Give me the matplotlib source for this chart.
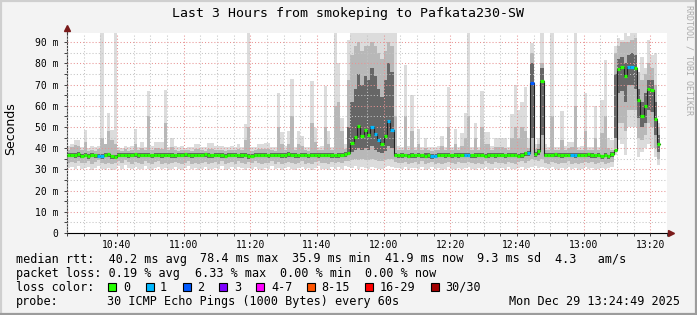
import numpy as np
import matplotlib
matplotlib.use("Agg")
import matplotlib.pyplot as plt
from matplotlib.lines import Line2D
from matplotlib.patches import Rectangle

W, H = 697, 315
MONO = "DejaVu Sans Mono"
plt.rcParams['font.family'] = MONO

# one value per minute starting at 10:25 (ms)
median = [
    36.8, 36.9, 36.7, 37.2, 36.5, 36.9, 36.3, 37.0, 36.6, 36.4,
    36.3, 36.9, 37.1, 36.2, 36.0, 36.8, 36.9, 37.0, 36.7, 36.9,
    37.1, 36.8, 36.9, 36.9, 37.0, 36.6, 37.0, 36.8, 36.7, 36.9,
    37.0, 36.8, 36.6, 36.9, 37.0, 37.1, 36.8, 36.7, 36.9, 37.0,
    36.9, 37.1, 36.7, 36.6, 36.9, 37.0, 36.8, 36.5, 36.9, 36.8,
    37.0, 36.6, 36.8, 36.9, 36.4, 36.5, 36.8, 36.9, 37.0, 36.9,
    36.6, 36.8, 36.9, 37.0, 36.7, 36.8, 37.2, 36.9, 36.7, 36.6,
    36.8, 36.9, 36.6, 37.0, 36.9, 36.7, 36.8, 36.9, 37.0, 36.8,
    36.6, 36.7, 37.0, 37.3, 37.8, 42.5, 45.1, 50.4, 45.7, 48.7,
    46.3, 50.1, 46.8, 44.0, 42.1, 45.7, 52.8, 48.5, 36.8, 36.6,
    36.7, 36.8, 36.5, 36.7, 36.6, 36.8, 36.7, 36.5, 36.6, 36.4,
    36.5, 36.9, 36.8, 36.7, 36.9, 36.6, 36.8, 36.7, 36.9, 37.0,
    36.8, 36.6, 36.7, 36.9, 36.8, 36.5, 36.7, 36.8, 36.7, 36.9,
    36.8, 36.6, 36.9, 37.0, 36.8, 36.5, 36.7, 37.6, 37.8, 70.8,
    37.2, 38.8, 71.5, 37.0, 36.9, 36.8, 37.1, 36.9, 36.7, 36.8,
    36.9, 36.8, 36.7, 36.9, 37.0, 36.8, 37.1, 36.7, 36.6, 36.9,
    36.2, 36.8, 36.1, 37.4, 39.1, 77.1, 78.4, 73.8, 78.4, 78.4,
    77.8, 62.7, 55.1, 59.8, 67.8, 67.4, 53.9, 41.8,
]

ping_min = [
    30.5, 31.0, 30.2, 31.5, 30.0, 30.8, 31.2, 29.9, 30.5, 31.8,
    30.1, 29.8, 30.6, 29.9, 30.4, 31.5, 30.2, 32.0, 30.8, 30.0,
    31.0, 30.4, 30.0, 31.6, 30.2, 29.9, 30.8, 31.2, 30.0, 30.5,
    29.8, 30.3, 31.0, 30.1, 29.9, 30.6, 31.4, 30.0, 30.5, 29.8,
    30.2, 31.0, 29.9, 30.4, 30.8, 30.0, 31.5, 29.8, 30.3, 30.9,
    30.0, 31.2, 30.5, 29.9, 30.7, 30.1, 31.3, 30.4, 29.8, 30.6,
    30.2, 31.4, 30.0, 30.8, 29.9, 30.5, 31.0, 30.2, 29.8, 30.6,
    31.2, 30.0, 30.5, 29.9, 30.8, 31.5, 30.1, 30.4, 29.8, 30.9,
    30.3, 31.0, 30.2, 31.6, 31.0, 30.5, 31.5, 30.0, 31.0, 30.5,
    30.0, 31.0, 30.5, 30.0, 30.2, 31.0, 31.5, 31.0, 30.5, 30.5,
    30.2, 31.0, 29.9, 30.5, 30.8, 30.0, 31.2, 29.8, 30.4, 31.0,
    30.0, 30.6, 29.9, 30.3, 31.1, 30.2, 29.8, 30.7, 30.1, 30.5,
    31.0, 30.2, 29.9, 30.6, 30.0, 31.3, 30.4, 29.8, 30.8, 30.2,
    30.5, 29.9, 31.0, 30.3, 30.0, 30.7, 31.2, 30.1, 30.5, 31.0,
    31.5, 30.5, 31.0, 30.5, 30.0, 31.0, 30.3, 29.9, 30.6, 30.2,
    31.2, 30.0, 30.5, 29.8, 30.4, 31.0, 30.1, 30.7, 29.9, 30.3,
    30.8, 30.0, 30.5, 31.0, 37.0, 44.0, 42.0, 37.0, 50.0, 50.0,
    50.0, 36.0, 38.0, 40.0, 42.0, 40.0, 36.0, 32.0,
]

mid_lo = [
    33.0, 33.5, 32.8, 34.0, 33.2, 33.0, 33.8, 32.6, 33.4, 34.2,
    32.8, 32.5, 33.2, 32.6, 33.0, 34.0, 32.9, 34.5, 33.3, 32.7,
    33.6, 33.0, 32.6, 34.0, 32.8, 32.6, 33.4, 33.8, 32.7, 33.1,
    32.5, 33.0, 33.6, 32.8, 32.6, 33.2, 34.0, 32.7, 33.1, 32.5,
    32.9, 33.6, 32.6, 33.0, 33.4, 32.7, 34.0, 32.5, 33.0, 33.5,
    32.7, 33.8, 33.1, 32.6, 33.3, 32.8, 33.9, 33.0, 32.5, 33.2,
    32.9, 34.0, 32.7, 33.4, 32.6, 33.1, 33.6, 32.9, 32.5, 33.2,
    33.8, 32.7, 33.1, 32.6, 33.4, 34.0, 32.8, 33.0, 32.5, 33.5,
    33.0, 33.6, 32.9, 34.0, 34.0, 34.5, 35.0, 34.5, 35.0, 34.5,
    34.5, 35.0, 34.5, 34.0, 34.0, 34.5, 35.0, 35.0, 33.5, 33.0,
    32.9, 33.6, 32.6, 33.1, 33.4, 32.7, 33.8, 32.5, 33.0, 33.6,
    32.7, 33.2, 32.6, 33.0, 33.7, 32.9, 32.5, 33.3, 32.8, 33.1,
    33.6, 32.9, 32.6, 33.2, 32.7, 33.9, 33.0, 32.5, 33.4, 32.9,
    33.1, 32.6, 33.6, 33.0, 32.7, 33.3, 33.8, 32.8, 34.0, 35.0,
    34.5, 34.0, 35.0, 33.2, 32.7, 33.6, 33.0, 32.6, 33.2, 32.9,
    33.8, 32.7, 33.1, 32.5, 33.0, 33.6, 32.8, 33.3, 32.6, 33.0,
    33.4, 32.7, 33.1, 33.6, 40.0, 52.0, 52.0, 48.0, 58.0, 58.0,
    58.0, 45.0, 44.0, 46.0, 52.0, 50.0, 40.0, 35.0,
]

core_lo = [
    35.6, 35.8, 35.4, 36.0, 35.2, 35.7, 35.0, 35.9, 35.4, 35.2,
    35.0, 35.6, 36.0, 35.0, 34.8, 35.6, 35.8, 35.9, 35.5, 35.7,
    36.0, 35.5, 35.7, 35.6, 35.8, 35.3, 35.9, 35.6, 35.4, 35.7,
    35.8, 35.5, 35.3, 35.7, 35.9, 36.0, 35.6, 35.4, 35.7, 35.9,
    35.7, 36.0, 35.4, 35.3, 35.6, 35.8, 35.5, 35.2, 35.7, 35.6,
    35.9, 35.3, 35.5, 35.7, 35.1, 35.2, 35.6, 35.7, 35.9, 35.6,
    35.3, 35.6, 35.7, 35.8, 35.4, 35.5, 36.0, 35.7, 35.4, 35.3,
    35.6, 35.7, 35.3, 35.8, 35.7, 35.4, 35.6, 35.7, 35.8, 35.5,
    35.3, 35.4, 35.8, 36.0, 37.0, 38.0, 39.0, 40.0, 39.0, 40.0,
    39.0, 41.0, 39.0, 38.0, 37.5, 38.5, 41.0, 40.0, 35.6, 35.3,
    35.5, 35.6, 35.2, 35.4, 35.3, 35.6, 35.5, 35.2, 35.3, 35.1,
    35.2, 35.7, 35.6, 35.4, 35.7, 35.3, 35.6, 35.4, 35.7, 35.8,
    35.6, 35.3, 35.4, 35.7, 35.6, 35.2, 35.4, 35.6, 35.4, 35.7,
    35.6, 35.3, 35.7, 35.8, 35.6, 35.2, 35.4, 36.2, 36.5, 45.0,
    35.8, 37.0, 46.0, 35.8, 35.7, 35.6, 35.9, 35.7, 35.4, 35.6,
    35.7, 35.6, 35.4, 35.7, 35.8, 35.6, 35.9, 35.4, 35.3, 35.7,
    35.0, 35.6, 35.0, 36.0, 45.0, 66.0, 67.0, 62.0, 70.0, 70.0,
    68.0, 54.0, 50.0, 52.0, 58.0, 57.0, 46.0, 38.0,
]

core_hi = [
    37.6, 37.7, 37.5, 38.0, 37.3, 37.7, 37.1, 37.8, 37.4, 37.2,
    37.1, 37.7, 37.9, 37.0, 36.8, 37.6, 37.7, 37.8, 37.5, 37.7,
    37.9, 37.6, 37.7, 37.7, 37.8, 37.4, 37.8, 37.6, 37.5, 37.7,
    37.8, 37.6, 37.4, 37.7, 37.8, 37.9, 37.6, 37.5, 37.7, 37.8,
    37.7, 37.9, 37.5, 37.4, 37.7, 37.8, 37.6, 37.3, 37.7, 37.6,
    37.8, 37.4, 37.6, 37.7, 37.2, 37.3, 37.6, 37.7, 37.8, 37.7,
    37.4, 37.6, 37.7, 37.8, 37.5, 37.6, 38.0, 37.7, 37.5, 37.4,
    37.6, 37.7, 37.4, 37.8, 37.7, 37.5, 37.6, 37.7, 37.8, 37.6,
    37.4, 37.5, 37.8, 38.2, 50.0, 62.0, 68.0, 75.0, 70.0, 74.0,
    72.0, 78.0, 74.0, 68.0, 64.0, 72.0, 80.0, 76.0, 37.6, 37.4,
    37.6, 37.4, 37.3, 37.5, 37.3, 37.5, 37.4, 37.6, 37.5, 37.3,
    37.3, 37.7, 37.6, 37.5, 37.7, 37.4, 37.6, 37.5, 37.7, 37.8,
    37.6, 37.4, 37.5, 37.7, 37.6, 37.3, 37.5, 37.6, 37.5, 37.7,
    37.6, 37.4, 37.7, 37.8, 37.6, 37.3, 37.5, 38.4, 38.6, 80.0,
    38.0, 39.6, 78.0, 37.8, 37.7, 37.6, 37.9, 37.7, 37.5, 37.6,
    37.7, 37.6, 37.5, 37.7, 37.8, 37.6, 37.9, 37.5, 37.4, 37.7,
    37.0, 37.6, 37.0, 38.0, 75.0, 82.0, 83.0, 80.0, 84.0, 85.0,
    84.0, 68.0, 62.0, 66.0, 72.0, 72.0, 62.0, 46.0,
]

mid_hi = [
    39.0, 40.5, 41.5, 41.0, 39.0, 43.0, 38.8, 39.2, 38.6, 39.5,
    45.0, 42.0, 48.0, 44.0, 42.0, 39.0, 38.8, 39.4, 38.7, 39.0,
    42.0, 39.0, 40.0, 38.9, 55.0, 39.0, 40.0, 40.0, 39.5, 52.0,
    39.0, 40.5, 39.0, 38.8, 39.2, 38.9, 39.0, 38.6, 39.8, 39.6,
    39.0, 38.8, 39.8, 39.5, 39.3, 39.0, 39.2, 38.6, 39.0, 39.3,
    38.9, 39.6, 39.0, 44.0, 50.0, 38.8, 39.0, 39.8, 39.5, 39.6,
    39.4, 39.0, 38.8, 50.0, 42.0, 39.0, 42.0, 55.0, 39.0, 42.0,
    41.0, 39.0, 38.8, 52.0, 43.0, 39.0, 39.2, 50.0, 42.0, 39.0,
    60.0, 62.0, 48.0, 39.5, 72.0, 84.0, 88.0, 90.0, 86.0, 88.0,
    88.0, 90.0, 88.0, 85.0, 82.0, 86.0, 90.0, 88.0, 55.0, 39.0,
    39.0, 55.0, 39.0, 48.0, 39.2, 42.0, 38.9, 40.0, 39.0, 38.8,
    39.0, 39.2, 41.0, 39.0, 50.0, 39.0, 42.0, 39.0, 41.0, 45.0,
    55.0, 39.0, 45.0, 39.2, 50.0, 42.0, 42.0, 39.0, 40.5, 40.5,
    40.5, 40.0, 39.0, 45.0, 50.0, 45.0, 50.0, 48.0, 40.0, 85.0,
    39.5, 42.0, 80.0, 39.0, 39.2, 55.0, 39.0, 38.9, 44.0, 39.0,
    40.0, 40.5, 60.0, 39.0, 39.0, 48.0, 39.2, 38.9, 45.0, 39.0,
    47.0, 55.0, 40.0, 39.0, 85.0, 88.0, 90.0, 90.0, 90.0, 91.0,
    92.0, 76.0, 72.0, 75.0, 80.0, 78.0, 70.0, 50.0,
]

ping_max = [
    41.0, 42.0, 43.8, 44.0, 40.5, 48.5, 40.2, 40.8, 40.4, 41.0,
    94.5, 42.0, 56.6, 48.5, 94.5, 40.6, 40.3, 41.0, 40.5, 40.8,
    49.0, 40.6, 43.0, 40.4, 67.0, 40.8, 43.0, 43.0, 43.0, 67.4,
    40.6, 45.0, 41.0, 40.5, 40.8, 40.3, 40.6, 40.4, 42.0, 42.0,
    40.7, 40.4, 42.5, 42.5, 41.0, 41.0, 41.0, 40.4, 40.6, 41.0,
    40.5, 42.0, 40.6, 51.4, 94.5, 40.4, 40.7, 42.0, 42.0, 42.5,
    42.5, 40.6, 40.4, 65.8, 47.6, 40.8, 48.0, 72.5, 40.6, 48.0,
    45.6, 40.5, 40.7, 71.6, 49.6, 40.6, 40.8, 69.3, 48.0, 40.5,
    94.5, 80.0, 54.0, 42.0, 91.0, 94.5, 94.5, 94.5, 94.5, 94.5,
    94.5, 94.5, 94.5, 94.5, 94.5, 94.5, 94.5, 94.5, 94.5, 41.0,
    40.6, 79.0, 40.8, 65.0, 40.5, 49.0, 40.7, 45.0, 40.6, 40.4,
    40.6, 40.8, 45.7, 40.5, 69.0, 40.7, 49.0, 40.6, 47.0, 56.5,
    94.5, 40.7, 52.0, 40.6, 67.0, 47.5, 47.5, 40.8, 45.0, 45.0,
    45.0, 45.0, 40.6, 56.0, 69.7, 58.0, 62.0, 69.0, 45.0, 89.4,
    42.0, 45.0, 94.5, 42.0, 40.6, 94.5, 40.7, 40.5, 57.6, 40.8,
    43.0, 43.0, 94.5, 40.6, 40.8, 66.0, 40.5, 40.7, 60.0, 40.6,
    62.7, 81.8, 45.0, 44.0, 88.0, 92.0, 91.0, 94.5, 93.0, 94.5,
    94.5, 76.0, 83.0, 78.0, 91.0, 84.0, 85.0, 52.0,
]

# minutes with lost pings and how many were lost
loss_minutes = [9, 10, 91, 92, 93, 96, 97, 109, 110, 119, 120, 138, 139, 151, 152, 168, 169]
loss_counts = [1, 1, 1, 1, 1, 1, 1, 1, 1, 1, 1, 1, 2, 1, 1, 1, 1]

loss_colors = ['#26ff00', '#00b8ff', '#0059ff', '#7e00ff', '#ff00ff', '#ff5500', '#ff0000', '#a10000']
loss_labels = ['0', '1', '2', '3', '4-7', '8-15', '16-29', '30/30']

x_ticks = [15, 35, 55, 75, 95, 115, 135, 155, 175]
x_tick_labels = ['10:40', '11:00', '11:20', '11:40', '12:00', '12:20', '12:40', '13:00', '13:20']
y_ticks = [0, 10, 20, 30, 40, 50, 60, 70, 80, 90]
y_tick_labels = ['0', '10 m', '20 m', '30 m', '40 m', '50 m', '60 m', '70 m', '80 m', '90 m']

title = 'Last 3 Hours from smokeping to Pafkata230-SW'
stats_rows = [
    [('median rtt:  40.2 ms avg', 16), ('78.4 ms max', 200), ('35.9 ms min', 292.5),
     ('41.9 ms now', 385), ('9.3 ms sd', 477), ('4.3   am/s', 555)],
    [('packet loss: 0.19 % avg', 16), ('6.33 % max', 195), ('0.00 % min', 280),
     ('0.00 % now', 365)],
]


def fx(px):
    return px / W


def fy(py):
    return 1 - py / H


fig = plt.figure(figsize=(W / 100, H / 100), dpi=100, facecolor='#f3f3f3')
ax = fig.add_axes([fx(67), fy(233), 600 / W, 200 / H])
ax.set_facecolor('white')
ax.set_xlim(0, 180)
ax.set_ylim(0, 94.3)

# smoke
x = np.arange(len(median))
for lo, hi, col in [(ping_min, ping_max, '#dcdcdc'),
                    (mid_lo, mid_hi, '#b8b8b8'),
                    (core_lo, core_hi, '#666666')]:
    ax.bar(x, np.array(hi) - np.array(lo), bottom=lo, width=1, align='edge',
           color=col, linewidth=0, zorder=1)

# median line, coloured by loss
edges = np.append(x, len(median))
ax.step(edges, median + [median[-1]], where='post', color='#202020', lw=0.8, zorder=3)
seg_colors = [loss_colors[0]] * len(median)
for m, c in zip(loss_minutes, loss_counts):
    seg_colors[m] = loss_colors[c]
ax.hlines(median, x, x + 1, colors=seg_colors, linewidth=2.3, zorder=4)

# grid
ax.set_xticks(x_ticks)
ax.set_xticklabels(x_tick_labels)
ax.set_xticks(np.arange(0, 181, 5), minor=True)
ax.set_yticks(y_ticks)
ax.set_yticklabels(y_tick_labels)
ax.set_yticks(np.arange(5, 95, 5), minor=True)
ax.set_axisbelow(False)
ax.grid(which='minor', color='#c4c4c4', linestyle=(0, (1, 2)), linewidth=0.75)
ax.grid(which='major', color='#e89494', linestyle=(0, (1, 2)), linewidth=0.75)
ax.tick_params(which='both', direction='out', length=2, width=0.7, labelsize=7, color='#404040')
ax.tick_params(axis='x', pad=3)
ax.tick_params(axis='y', pad=4)

for s in ['top', 'right']:
    ax.spines[s].set_visible(False)
ax.spines['left'].set_color('#404040')
ax.spines['bottom'].set_color('black')
ax.spines['left'].set_linewidth(0.8)
ax.spines['bottom'].set_linewidth(0.8)

# axis arrows
ax.plot([1, 1.003], [0, 0], color='black', lw=0.8, transform=ax.transAxes, clip_on=False)
ax.plot([0, 0], [1, 1.02], color='#404040', lw=0.8, transform=ax.transAxes, clip_on=False)
ax.plot([1.007], [0], marker='>', ms=4, color='#7a1a1a', transform=ax.transAxes, clip_on=False)
ax.plot([0], [1.025], marker='^', ms=4, color='#7a1a1a', transform=ax.transAxes, clip_on=False)

# texts
fig.text(0.5, fy(13.3), title, ha='center', va='center', fontsize=9.5)
fig.text(fx(11), fy(129), 'Seconds', rotation=90, ha='center', va='center',
         family='DejaVu Sans', fontsize=9)
fig.text(fx(689), fy(60), 'RRDTOOL / TOBI OETIKER', rotation=270, ha='center', va='center',
         fontsize=6, color='#ababab')

row_y = [259, 273.3, 287.3, 301.7]
for row, yy in zip(stats_rows, row_y):
    for txt, xx in row:
        fig.text(fx(xx), fy(yy), txt, ha='left', va='center', fontsize=8.5)

box_x = [108, 146, 183, 219, 256, 307, 365, 431]
label_x = [123, 160, 197, 234, 271, 321, 380, 445]
fig.text(fx(16), fy(row_y[2]), 'loss color:', ha='left', va='center', fontsize=8.5)
for bx, lx, col, lab in zip(box_x, label_x, loss_colors, loss_labels):
    fig.add_artist(Rectangle((fx(bx), fy(row_y[2] + 4)), 8 / W, 8 / H, transform=fig.transFigure,
                             facecolor=col, edgecolor='black', linewidth=0.8))
    fig.text(fx(lx), fy(row_y[2]), lab, ha='left', va='center', fontsize=8.5)

fig.text(fx(16), fy(row_y[3]), 'probe:', ha='left', va='center', fontsize=8.5)
fig.text(fx(107), fy(row_y[3]), '30 ICMP Echo Pings (1000 Bytes) every 60s',
         ha='left', va='center', fontsize=8.5)
fig.text(fx(680), fy(row_y[3]), 'Mon Dec 29 13:24:49 2025', ha='right', va='center', fontsize=8.5)

# outer frame
for xs, ys, col in [([0, 1], [fy(1), fy(1)], '#cfcfcf'),
                    ([fx(1), fx(1)], [0, 1], '#cfcfcf'),
                    ([0, 1], [fy(H - 1.5), fy(H - 1.5)], '#9c9c9c'),
                    ([fx(W - 1.5), fx(W - 1.5)], [0, 1], '#9c9c9c')]:
    fig.add_artist(Line2D(xs, ys, transform=fig.transFigure, color=col, lw=1.6))

fig.savefig('out.png', dpi=100, facecolor=fig.get_facecolor())
